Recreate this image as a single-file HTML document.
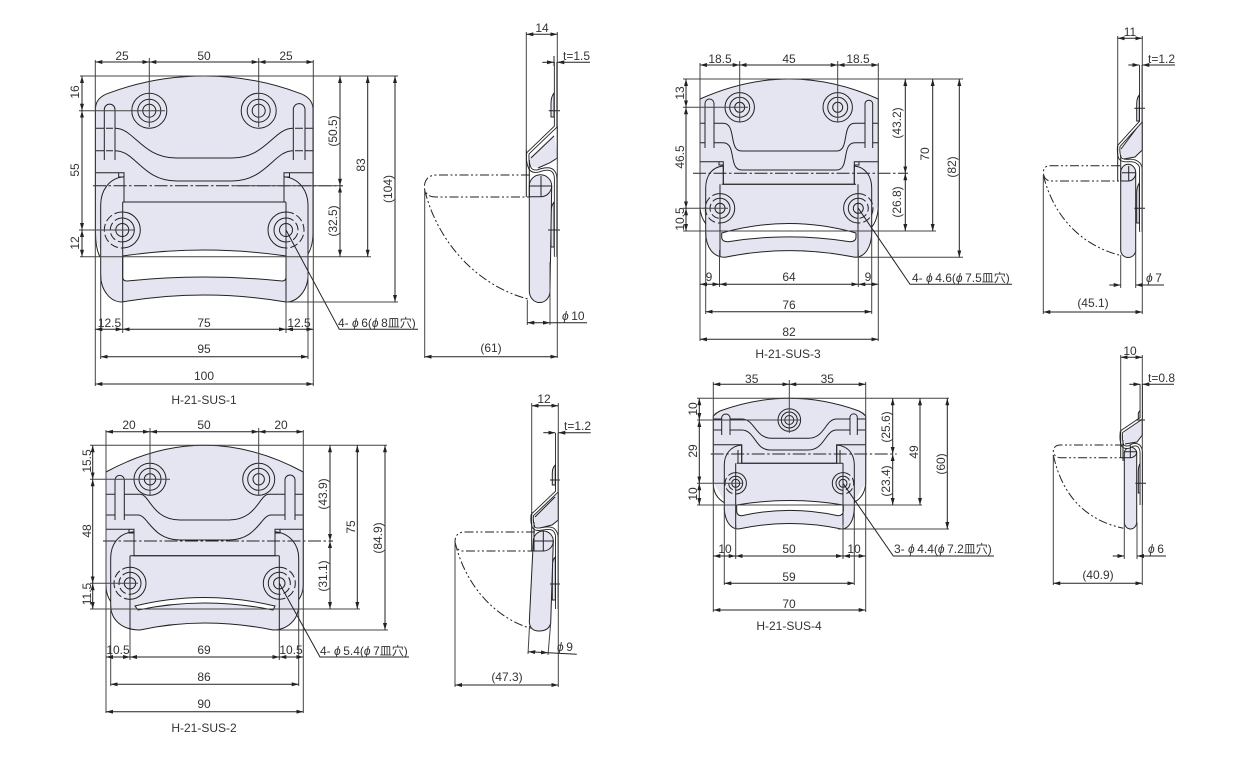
<!DOCTYPE html>
<html><head><meta charset="utf-8"><title>H-21-SUS</title>
<style>
html,body{margin:0;padding:0;background:#fff;width:1255px;height:763px;overflow:hidden}
svg{display:block}
text{font-family:"Liberation Sans","Noto Sans CJK JP",sans-serif;font-size:12px;fill:#333}
.t{text-anchor:middle}
.p{font-style:italic;letter-spacing:2.5px}
.l,.d,.o,.c,.s,.e{fill:none;stroke:#222;stroke-width:1}
.e{stroke:#444;stroke-width:1}
.d{stroke-width:1;marker-start:url(#a);marker-end:url(#a)}
.n{fill:none;stroke:#222;stroke-width:1;marker-end:url(#a)}
.c{stroke-width:1;stroke-dasharray:13 2.5 2.5 2.5}
.s{stroke-width:1;stroke-dasharray:9 2.5 2 2.5 2 2.5}
.f{fill:#e5e5f1;stroke:none}
.h{fill:#e5e5f1;stroke:#222;stroke-width:1}
.w{fill:#fff;stroke:#222;stroke-width:1}
.p1{fill:none;stroke:#222;stroke-width:3.4;stroke-linejoin:round}
.p2{fill:none;stroke:#fff;stroke-width:1.6;stroke-linejoin:round}
.q{fill:none;stroke:#222;stroke-width:1;stroke-dasharray:8 3}
</style></head><body>
<svg width="1255" height="763" viewBox="0 0 1255 763" xmlns="http://www.w3.org/2000/svg">
<defs><marker id="a" markerUnits="userSpaceOnUse" markerWidth="7" markerHeight="4" refX="7" refY="2" orient="auto-start-reverse"><path d="M0 0L7 2L0 4z" fill="#222"/></marker></defs>

<!-- H-21-SUS-1 front -->
<g>
<path class="f" d="M95.5 108Q96 97 110 92.7Q155 76 204 76Q253 76 298 92.7Q312 97 313 108V233Q313 250 300 257H108Q96 250 95.5 233Z"/>
<path class="l" d="M100 257Q95.5 248 95.5 233V108Q96 97 110 92.7Q155 76 204 76Q253 76 298 92.7Q312 97 313 108V233Q313 248 306 257"/>
<path class="h" d="M124 176.7C108 178 100.7 192 100.7 205V275C100.7 290 110 302 122 302Q204 288 286 302C298 302 308 290 308 275V205C308 192 300 178 284 176.7V202H124Z"/>
<path class="w" d="M122.7 256Q204 244 286 256V277Q286 281 282 281Q204 273 127 281Q122.7 281 122.7 277Z"/>
<path class="l" d="M95.5 172.7H124V202M313 172.7H284V202M118.7 172.7V177H124M289.5 172.7V177H284M122.7 202V302M286 202V302M122.7 202H286"/>
<path class="l" d="M104.3 160V109.5A5.3 5.3 0 0 1 115 109.5V160M293.3 160V109.5A5.8 5.8 0 0 1 305 109.5V160"/>
<path class="l" d="M95.5 128.3H104M115 128.3C134 128 142 158 176 158H232C266 158 274 128 293 128.3M305 128.3H313M95.5 150.7H104M115 150.7C136 150.7 142 181 177 181H232C266 181 274 150.7 293 150.7M305 150.7H313M106 128.3H113M295 128.3H303M106 150.7H113M295 150.7H303"/>
<path class="c" d="M93 185.7H343"/>
<g class="l"><circle cx="149.3" cy="110.7" r="17.5"/><circle cx="149.3" cy="110.7" r="11.5"/><circle cx="149.3" cy="110.7" r="6.5"/><circle cx="258.7" cy="110.7" r="17.5"/><circle cx="258.7" cy="110.7" r="11.5"/><circle cx="258.7" cy="110.7" r="6.5"/></g>
<g transform="translate(122.3 230)"><circle class="l" r="6.5"/><path class="l" d="M0-18A18 18 0 0 1 0 18M0-12A12 12 0 0 1 0 12"/><path class="q" d="M0-18A18 18 0 0 0 0 18M0-12A12 12 0 0 0 0 12"/></g>
<g transform="translate(286 230)"><circle class="l" r="6.5"/><path class="l" d="M0-18A18 18 0 0 0 0 18M0-12A12 12 0 0 0 0 12"/><path class="q" d="M0-18A18 18 0 0 1 0 18M0-12A12 12 0 0 1 0 12"/></g>
<path class="e" d="M95.3 60V386M313.3 60V386M149.3 58V127M258.7 58V127M100.7 275V359M308 275V359M122.7 302V333M286 302V333M80 76H398M80 256.7H371M286 302H398M79 110.7H165M79 230H135M233 185.7H343"/>
<path class="d" d="M95.3 62H149.3"/><path class="d" d="M149.3 62H258.7"/><path class="d" d="M258.7 62H313.3"/>
<path class="d" d="M82 76V110.7"/><path class="d" d="M82 110.7V230"/><path class="d" d="M82 230V256.7"/>
<path class="d" d="M340 76V185.7"/><path class="d" d="M340 185.7V256.7"/><path class="d" d="M367.7 76V256.7"/><path class="d" d="M395 76V302"/>
<path class="d" d="M95.3 329.3H122.7"/><path class="d" d="M122.7 329.3H286"/><path class="d" d="M286 329.3H313.3"/><path class="d" d="M100.7 356.7H308"/><path class="d" d="M95.3 384H313.3"/>
<path class="l" d="M286 230L339.3 329.3H418"/>
<text class="t" x="122" y="60">25</text><text class="t" x="204" y="60">50</text><text class="t" x="286" y="60">25</text>
<text class="t" transform="translate(75 92)rotate(-90)" dy=".35em">16</text><text class="t" transform="translate(75 170)rotate(-90)" dy=".35em">55</text><text class="t" transform="translate(75 243)rotate(-90)" dy=".35em">12</text>
<text class="t" transform="translate(333 131)rotate(-90)" dy=".35em">(50.5)</text><text class="t" transform="translate(333 221)rotate(-90)" dy=".35em">(32.5)</text><text class="t" transform="translate(361 165)rotate(-90)" dy=".35em">83</text><text class="t" transform="translate(388 189)rotate(-90)" dy=".35em">(104)</text>
<text class="t" x="109.5" y="327">12.5</text><text class="t" x="204" y="327">75</text><text class="t" x="299" y="327">12.5</text><text class="t" x="204" y="353">95</text><text class="t" x="204" y="380">100</text><text class="t" x="204" y="404">H-21-SUS-1</text>
<text x="338" y="327">4- <tspan class="p">ϕ</tspan>6(<tspan class="p">ϕ</tspan>8皿穴)</text>
</g>

<!-- H-21-SUS-1 side -->
<g>
<path class="f" d="M530 156.7L554 135L557.3 153V158L550 162.7L538 168L531.7 166.7L529.3 160Z"/>
<path class="l" d="M531 158L554 136M557.3 126V158L550 162.7L538 168"/>
<path class="h" d="M554 93Q551 97 551 103V117H554ZM554 202Q551 206 551 212V247H554Z"/>
<path class="h" d="M529.3 186A11 11 0 0 1 551.7 186L550 291A10.3 11.5 0 0 1 529.3 291Z"/>
<path class="p1" d="M555.6 62V126.7L527.9 153.3Q527 162 530 168.3Q532 172 538 171Q549 167 553 171Q555.6 174 555.6 178V256.7"/>
<path class="p2" d="M555.6 62V126.7L527.9 153.3Q527 162 530 168.3Q532 172 538 171Q549 167 553 171Q555.6 174 555.6 178V256.7"/>
<path class="l" d="M526.3 150V197M529.3 160V197M541 176V197M529 186H552M529.3 196.7H541A11 11 0 0 0 551.7 186M548.7 110.7H560M548 230H560"/>
<path class="s" d="M530 175H436.7Q425 175 424.3 187Q425 197 436 197H530"/>
<path class="s" d="M424.7 190C437 240 475 285 528 299"/>
<path class="e" d="M526.3 32V152M557.3 32V358M424.7 190V358M527.3 300V325M550 262V325"/>
<path class="d" d="M526.3 34.3H557.3"/><path class="d" d="M424.7 356.7H557.3"/><path class="d" d="M527.3 322.7H550"/>
<path class="n" d="M542.3 62.3H554"/><path class="n" d="M590 62.3H557.3"/><path class="l" d="M550 322.7H587M554 56V66"/>
<text class="t" x="542" y="32">14</text><text x="563" y="60">t=1.5</text><text x="562" y="320"><tspan class="p">ϕ</tspan>10</text><text class="t" x="491" y="352">(61)</text>
</g>

<!-- H-21-SUS-2 front -->
<g>
<path class="f" d="M106 472Q155 445.3 204.5 445.3Q254 445.3 303.3 472V588L290 609H120L106 588Z"/>
<path class="l" d="M111 602Q106 595 106 585V472Q155 445.3 204.5 445.3Q254 445.3 303.3 472V585Q303 595 297 602"/>
<path class="h" d="M134 531.7C118 533 110.7 545 110.7 558V605C110.7 620 122 630 140 630Q204 616 273 630C287 630 298.7 620 298.7 605V558C298.7 545 290 533 275 531.7V555.7H134Z"/>
<path class="w" d="M135 606Q204 589 275 606L273 610Q204 596 138 610Z"/>
<path class="l" d="M106 529.3H134V555.7M303.3 529.3H275V555.7M129 529.3V533H134M280 529.3V533H275M130 555.7V630M279.3 555.7V630M130 555.7H279.3"/>
<path class="l" d="M115 520V480A4.6 4.6 0 0 1 124.3 480V520M285 520V480A5 5 0 0 1 295 480V520"/>
<path class="l" d="M106 494.3H115M124.3 494.3H140C150 494.3 152 520 180 520H229C257 520 259 494.3 269 494.3H285M295 494.3H303.3M106 515H115M124.3 515H138C148 515 152 540 180 540H229C257 540 261 515 271 515H285M295 515H303.3"/>
<path class="c" d="M103 541H333"/>
<g class="l"><circle cx="150" cy="479.3" r="16"/><circle cx="150" cy="479.3" r="11"/><circle cx="150" cy="479.3" r="5.7"/><circle cx="258.7" cy="479.3" r="16"/><circle cx="258.7" cy="479.3" r="11"/><circle cx="258.7" cy="479.3" r="5.7"/></g>
<g transform="translate(130 583.3)"><circle class="l" r="5.7"/><path class="l" d="M0-16A16 16 0 0 1 0 16M0-11A11 11 0 0 1 0 11"/><path class="q" d="M0-16A16 16 0 0 0 0 16M0-11A11 11 0 0 0 0 11"/></g>
<g transform="translate(279.3 583.3)"><circle class="l" r="5.7"/><path class="l" d="M0-16A16 16 0 0 0 0 16M0-11A11 11 0 0 0 0 11"/><path class="q" d="M0-16A16 16 0 0 1 0 16M0-11A11 11 0 0 1 0 11"/></g>
<path class="e" d="M106 430V713M303.3 430V713M150 428V495M258.7 428V495M110.7 605V686M298.7 605V686M130 630V660M279.3 630V660M90 445.3H387M90 609H360M275 630H388M90 479.3H170M90 583.3H138"/>
<path class="d" d="M106 431.7H150"/><path class="d" d="M150 431.7H258.7"/><path class="d" d="M258.7 431.7H303.3"/>
<path class="d" d="M92.7 445.3V479.3"/><path class="d" d="M92.7 479.3V583.3"/><path class="d" d="M92.7 583.3V609"/>
<path class="d" d="M330 445.3V541"/><path class="d" d="M330 541V609"/><path class="d" d="M357.3 445.3V609"/><path class="d" d="M385 445.3V630"/>
<path class="d" d="M106 657H130"/><path class="d" d="M130 657H279.3"/><path class="d" d="M279.3 657H303.3"/><path class="d" d="M110.7 684.3H298.7"/><path class="d" d="M106 711.7H303.3"/>
<path class="l" d="M279.3 583.3L320 657H409"/>
<text class="t" x="129" y="429">20</text><text class="t" x="204" y="429">50</text><text class="t" x="281" y="429">20</text>
<text class="t" transform="translate(87 461)rotate(-90)" dy=".35em">15.5</text><text class="t" transform="translate(87 531)rotate(-90)" dy=".35em">48</text><text class="t" transform="translate(87 594)rotate(-90)" dy=".35em">11.5</text>
<text class="t" transform="translate(323 494)rotate(-90)" dy=".35em">(43.9)</text><text class="t" transform="translate(323 576)rotate(-90)" dy=".35em">(31.1)</text><text class="t" transform="translate(351 527)rotate(-90)" dy=".35em">75</text><text class="t" transform="translate(378 538)rotate(-90)" dy=".35em">(84.9)</text>
<text class="t" x="118" y="654">10.5</text><text class="t" x="204" y="654">69</text><text class="t" x="291" y="654">10.5</text><text class="t" x="204" y="681">86</text><text class="t" x="204" y="708">90</text><text class="t" x="204" y="732">H-21-SUS-2</text>
<text x="320" y="655">4- <tspan class="p">ϕ</tspan>5.4(<tspan class="p">ϕ</tspan>7皿穴)</text>
</g>

<!-- H-21-SUS-2 side -->
<g>
<path class="f" d="M534 516L555 495L558.3 495V520L552 525L540 528L535 526Z"/>
<path class="l" d="M535 517L555 497M558.3 492V520L552 525L540 528"/>
<path class="h" d="M555.3 465Q552.3 468 552.3 473V485H555.3ZM555.3 557Q552.3 560 552.3 566V600H555.3Z"/>
<path class="h" d="M533.3 541A10 10 0 0 1 553.3 541L550.7 623Q549 631 539 631Q530 631 529.3 622Z"/>
<path class="p1" d="M556.8 433V491.7L532.3 515Q531.5 522 533.5 527Q535 530 541 529Q551 527 554 530Q556.8 533 556.8 537V609"/>
<path class="p2" d="M556.8 433V491.7L532.3 515Q531.5 522 533.5 527Q535 530 541 529Q551 527 554 530Q556.8 533 556.8 537V609"/>
<path class="l" d="M531.7 512V551M534 522V551M543.3 531V551M533 541H553M534 551H543.3A10 10 0 0 0 553.3 541M550 480H560M550 584H560"/>
<path class="s" d="M535 532H463.3Q455 533 455 541.7Q456 550 461.7 551H535"/>
<path class="s" d="M455 542C465 585 495 618 530.7 628.3"/>
<path class="e" d="M531.7 403V514M558.3 403V687M455 542V687M529.5 626L528 654M550.7 623L548 655"/>
<path class="d" d="M531.7 405.7H558.3"/><path class="d" d="M455 685H558.3"/><path class="d" d="M528.3 651.7L548 652.8"/>
<path class="n" d="M543.3 432.7H555.3"/><path class="n" d="M590.7 432.7H558.3"/><path class="l" d="M548 652.8L576.7 654.3"/>
<text class="t" x="544" y="403">12</text><text x="564" y="430">t=1.2</text><text x="557" y="651"><tspan class="p">ϕ</tspan>9</text><text class="t" x="507" y="681">(47.3)</text>
</g>

<!-- H-21-SUS-3 front -->
<g>
<path class="f" d="M700 99Q745 79 789 79Q834 79 878.3 99V205L865 231H713L700 205Z"/>
<path class="l" d="M713 230Q700 222 700 205V99Q745 79 789 79Q834 79 878.3 99V205Q878 220 871 228"/>
<path class="h" d="M723.3 166C711 167 705.7 177 705.7 188V232C705.7 247 713 257.3 725 257.3Q789 244 855 257.3C865 257.3 871.7 247 871.7 232V188C871.7 177 866 167 854.3 166V184.3H723.3Z"/>
<path class="w" d="M721.7 233Q789 214 856 233V237Q856 241.7 850 241.7Q789 232 728 241.7Q721.7 241.7 721.7 237Z"/>
<path class="l" d="M700 161.7H723.3V184.3M878.3 161.7H854.3V184.3M719 161.7V165H723.3M859 161.7V165H854.3M720 184.3V257M858 184.3V257M721.7 184.3H856"/>
<path class="l" d="M705 148V103.5A4.5 4.5 0 0 1 714 103.5V148M865 148V103.5A3.9 3.9 0 0 1 872.7 103.5V148"/>
<path class="l" d="M700 123.3H705M714 123.3H723C737 123.3 728 151 741.7 151H836.7C850 151 841 123.3 855 123.3H865M872.7 123.3H878.3M700 142.7H705M714 142.7H723C737 142.7 728 170 741.7 170H836.7C850 170 841 142.7 855 142.7H865M872.7 142.7H878.3"/>
<path class="c" d="M693 173.3H908"/>
<g class="l"><circle cx="739.7" cy="107.3" r="14.7"/><circle cx="739.7" cy="107.3" r="10"/><circle cx="739.7" cy="107.3" r="5"/><circle cx="837.7" cy="107.3" r="14.7"/><circle cx="837.7" cy="107.3" r="10"/><circle cx="837.7" cy="107.3" r="5"/></g>
<g transform="translate(720 208.3)"><circle class="l" r="5"/><path class="l" d="M0-14.7A14.7 14.7 0 0 1 0 14.7M0-10A10 10 0 0 1 0 10"/><path class="q" d="M0-14.7A14.7 14.7 0 0 0 0 14.7M0-10A10 10 0 0 0 0 10"/></g>
<g transform="translate(858.3 208.3)"><circle class="l" r="5"/><path class="l" d="M0-14.7A14.7 14.7 0 0 0 0 14.7M0-10A10 10 0 0 0 0 10"/><path class="q" d="M0-14.7A14.7 14.7 0 0 1 0 14.7M0-10A10 10 0 0 1 0 10"/></g>
<path class="e" d="M700 63V341M878.3 63V341M739.7 61V122M837.7 61V122M705.7 232V314M871.7 232V314M719.5 250V287M858.3 250V287M683 79H963M683 231H936M855 257.3H963M683 107.3H748M683 208.3H728"/>
<path class="d" d="M700 65H739.7"/><path class="d" d="M739.7 65H837.7"/><path class="d" d="M837.7 65H878.3"/>
<path class="d" d="M686 79V107.3"/><path class="d" d="M686 107.3V208.3"/><path class="d" d="M686 208.3V231"/>
<path class="d" d="M905.3 79V173.3"/><path class="d" d="M905.3 173.3V231"/><path class="d" d="M932.7 79V231"/><path class="d" d="M959.3 79V257.3"/>
<path class="d" d="M700 284.3H719.5"/><path class="d" d="M719.5 284.3H858.3"/><path class="d" d="M858.3 284.3H878.3"/><path class="d" d="M705.7 311.7H871.7"/><path class="d" d="M700 339.3H878.3"/>
<path class="l" d="M858.3 208.3L910 284.3H1012"/>
<text class="t" x="720" y="63">18.5</text><text class="t" x="789" y="63">45</text><text class="t" x="858" y="63">18.5</text>
<text class="t" transform="translate(680 93)rotate(-90)" dy=".35em">13</text><text class="t" transform="translate(680 157)rotate(-90)" dy=".35em">46.5</text><text class="t" transform="translate(680 219)rotate(-90)" dy=".35em">10.5</text>
<text class="t" transform="translate(897 123)rotate(-90)" dy=".35em">(43.2)</text><text class="t" transform="translate(897 202)rotate(-90)" dy=".35em">(26.8)</text><text class="t" transform="translate(925 154)rotate(-90)" dy=".35em">70</text><text class="t" transform="translate(952 167)rotate(-90)" dy=".35em">(82)</text>
<text class="t" x="709" y="281">9</text><text class="t" x="789" y="281">64</text><text class="t" x="868" y="281">9</text><text class="t" x="789" y="309">76</text><text class="t" x="789" y="336">82</text><text class="t" x="788" y="358">H-21-SUS-3</text>
<text x="912" y="282">4- <tspan class="p">ϕ</tspan>4.6(<tspan class="p">ϕ</tspan>7.5皿穴)</text>
</g>

<!-- H-21-SUS-3 side -->
<g>
<path class="f" d="M1121 148L1140 124L1142.3 122V150L1135 157L1124 159L1120 152Z"/>
<path class="l" d="M1121 149L1139 125M1142.3 121V150L1135 157L1124 159"/>
<path class="h" d="M1139.3 95Q1136.7 98 1136.7 104V121H1139.3ZM1139.3 183Q1136.7 187 1136.7 193V223H1139.3Z"/>
<path class="h" d="M1120.7 172.7A7.5 8.5 0 0 1 1135.7 172.7V250A7.5 7.5 0 0 1 1120.7 250Z"/>
<path class="p1" d="M1140.8 65V121.7L1118.8 146Q1118 153 1120 158Q1122 161 1128 160.5Q1135 160 1138 163Q1140.8 165 1140.8 169V231.7"/>
<path class="p2" d="M1140.8 65V121.7L1118.8 146Q1118 153 1120 158Q1122 161 1128 160.5Q1135 160 1138 163Q1140.8 165 1140.8 169V231.7"/>
<path class="l" d="M1117.7 144V181M1120.7 155V181M1128.7 166V181M1122 172.7H1136M1120.7 181H1128.7A7.5 8 0 0 0 1135.7 172.7M1134.3 108.3H1145M1134.3 208.3H1145"/>
<path class="s" d="M1120 165.7H1050Q1043.3 166 1043.3 172.7Q1044 180 1050 181H1120"/>
<path class="s" d="M1043.3 175C1053 215 1080 245 1120 255.3"/>
<path class="e" d="M1117.7 36V146M1142.3 36V314M1043.3 175V314M1120.7 255V288M1135.7 250V288"/>
<path class="d" d="M1117.7 38.3H1142.3"/><path class="d" d="M1043.3 312H1142.3"/>
<path class="n" d="M1128.3 65H1139.3"/><path class="n" d="M1175 65H1142.3"/><path class="n" d="M1109.3 285H1120.7"/><path class="n" d="M1164 285H1135.7"/>
<text class="t" x="1130" y="36">11</text><text x="1148" y="63">t=1.2</text><text x="1146" y="282"><tspan class="p">ϕ</tspan>7</text><text class="t" x="1093" y="307">(45.1)</text>
</g>

<!-- H-21-SUS-4 front -->
<g>
<path class="f" d="M713.3 413Q752 398.3 789.3 398.3Q827 398.3 865.7 413V483L852 505H727L713.3 483Z"/>
<path class="l" d="M725 503Q713.3 497 713.3 483V416Q716 413 720 411Q755 398.3 789.3 398.3Q824 398.3 859 411Q863 413 865.7 416V483Q865 497 853 503"/>
<path class="h" d="M741.7 445C730 446 724.3 455 724.3 465V507C724.3 520 730 529 738.3 529Q789 518 841.7 529C849 529 854.3 520 854.3 507V465C854.3 455 849 446 836.7 445V463.3H741.7Z"/>
<path class="w" d="M736.7 505Q790 496 843.3 505V511Q843 515.7 838 515.7Q790 505 741.7 515.7Q736.7 515.7 736.7 511Z"/>
<path class="l" d="M713.3 444.7H741.7V463.3M865.7 444.7H836.7V463.3M738 450V463.3H741.7M840 450V463.3H836.7M735.7 463.3V529M843 463.3V529M736.7 463.3H843"/>
<path class="l" d="M721.7 435V417.5A4.2 4.2 0 0 1 730 417.5V435M850 435V417A3.7 3.7 0 0 1 857.3 417V435"/>
<path class="l" d="M713.3 419H721.7M730 419H741.7C755 419 755 438.3 771.7 438.3H808.3C825 438.3 825 419 836.7 419H850M857.3 419H865.7M713.3 430H721.7M730 430H741.7C755 430 755 450 770 450H808C825 450 825 430 836.7 430H850M857.3 430H865.7"/>
<path class="c" d="M710.7 454H896.7"/>
<g class="l"><circle cx="789.3" cy="420" r="11.3"/><circle cx="789.3" cy="420" r="8"/><circle cx="789.3" cy="420" r="4.5"/></g>
<g transform="translate(735.7 483.3)"><circle class="l" r="4"/><path class="l" d="M0-10.7A10.7 10.7 0 0 1 0 10.7M0-7A7 7 0 0 1 0 7"/><path class="q" d="M0-10.7A10.7 10.7 0 0 0 0 10.7M0-7A7 7 0 0 0 0 7"/></g>
<g transform="translate(843 483.3)"><circle class="l" r="4"/><path class="l" d="M0-10.7A10.7 10.7 0 0 0 0 10.7M0-7A7 7 0 0 0 0 7"/><path class="q" d="M0-10.7A10.7 10.7 0 0 1 0 10.7M0-7A7 7 0 0 1 0 7"/></g>
<path class="e" d="M713.3 382V612M865.7 382V612M789.3 380V433M724.3 507V585M854.3 507V585M735.7 525V559M843 525V559M697 398.3H949M697 505H922M838 529H949M697 420H800M697 483.3H742"/>
<path class="d" d="M713.3 384.3H789.3"/><path class="d" d="M789.3 384.3H865.7"/>
<path class="d" d="M699.3 398.3V420"/><path class="d" d="M699.3 420V483.3"/><path class="d" d="M699.3 483.3V505"/>
<path class="d" d="M892.7 398.3V454"/><path class="d" d="M892.7 454V505"/><path class="d" d="M920 398.3V505"/><path class="d" d="M947.3 398.3V529"/>
<path class="d" d="M713.3 556H735.7"/><path class="d" d="M735.7 556H843"/><path class="d" d="M843 556H865.7"/><path class="d" d="M724.3 583.3H854.3"/><path class="d" d="M713.3 610H865.7"/>
<path class="l" d="M843 483.3L893.3 556H994"/>
<text class="t" x="751.7" y="383">35</text><text class="t" x="827.3" y="383">35</text>
<text class="t" transform="translate(693 409)rotate(-90)" dy=".35em">10</text><text class="t" transform="translate(693 451)rotate(-90)" dy=".35em">29</text><text class="t" transform="translate(693 494)rotate(-90)" dy=".35em">10</text>
<text class="t" transform="translate(886 427)rotate(-90)" dy=".35em">(25.6)</text><text class="t" transform="translate(886 481)rotate(-90)" dy=".35em">(23.4)</text><text class="t" transform="translate(914 452)rotate(-90)" dy=".35em">49</text><text class="t" transform="translate(941 464)rotate(-90)" dy=".35em">(60)</text>
<text class="t" x="725" y="553">10</text><text class="t" x="789" y="553">50</text><text class="t" x="854" y="553">10</text><text class="t" x="789" y="581">59</text><text class="t" x="789" y="608">70</text><text class="t" x="789" y="630">H-21-SUS-4</text>
<text x="894" y="553">3- <tspan class="p">ϕ</tspan>4.4(<tspan class="p">ϕ</tspan>7.2皿穴)</text>
</g>

<!-- H-21-SUS-4 side -->
<g>
<path class="f" d="M1124 432L1139 420L1142 418V435L1137 442L1125 444L1123 438Z"/>
<path class="l" d="M1124 431L1139 421M1142.3 418V435L1137 442L1125 444"/>
<path class="h" d="M1140.3 410L1138.3 413V419H1140.3ZM1140.3 463Q1138.3 466 1138.3 472V493H1140.3Z"/>
<path class="h" d="M1124.3 452A6.5 7 0 0 1 1136.7 452V522A6.2 7 0 0 1 1124.3 522Z"/>
<path class="p1" d="M1141.3 384.3V418.3L1121.5 431.7Q1120.5 440 1122.5 445Q1124 448 1129 447Q1135 443 1139 446Q1141.3 449 1141.3 453V505"/>
<path class="p2" d="M1141.3 384.3V418.3L1121.5 431.7Q1120.5 440 1122.5 445Q1124 448 1129 447Q1135 443 1139 446Q1141.3 449 1141.3 453V505"/>
<path class="l" d="M1120.7 430V458M1123 440V461M1130.3 445V458M1124 451.7H1137M1124 457.7H1130.3A6.5 6 0 0 0 1136.7 452M1136 420H1145M1135.3 483.3H1146"/>
<path class="s" d="M1124 445H1060Q1053.3 445.5 1053.3 451.7Q1054 457 1060 457.7H1124"/>
<path class="s" d="M1053.3 455C1062 495 1085 520 1123.3 528.3"/>
<path class="e" d="M1120.7 355V432M1142.3 355V585M1053.3 455V585M1124.3 522V559M1137 522V559"/>
<path class="d" d="M1120.7 357.3H1142.3"/><path class="d" d="M1053.3 583.3H1142.3"/>
<path class="n" d="M1129.3 384.3H1140.3"/><path class="n" d="M1174 384.3H1142.3"/><path class="n" d="M1112.7 556H1124.3"/><path class="n" d="M1166 556H1137"/>
<text class="t" x="1130" y="355">10</text><text x="1148" y="382">t=0.8</text><text x="1148" y="553"><tspan class="p">ϕ</tspan>6</text><text class="t" x="1098" y="579">(40.9)</text>
</g>
</svg>
</body></html>
